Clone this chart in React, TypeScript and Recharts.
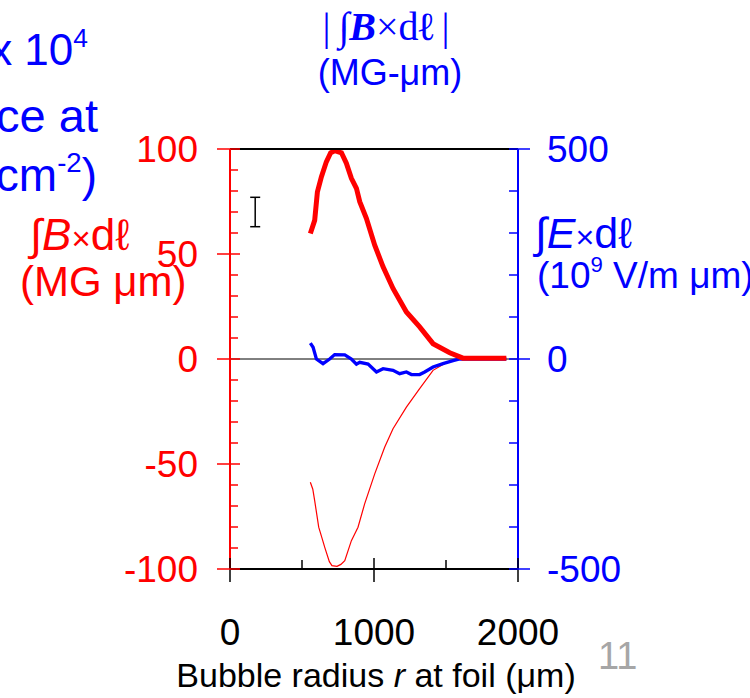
import React from 'react';
import { ComposedChart, Line, Scatter, ErrorBar, XAxis, YAxis, ReferenceLine } from 'recharts';

// radius (um) and integrated B field (MG um), positive branch (thick)
const posRadius = [558, 588, 607, 635, 669, 699, 727, 774, 808, 843, 878, 901, 947, 1005, 1063, 1132, 1225, 1317, 1410, 1526, 1618, 1700, 1800, 1919];
const posField = [59.8, 66, 79.6, 86.8, 93.9, 98.2, 99.2, 98.2, 93.2, 86, 81.3, 74.9, 67, 54.2, 43.9, 33.6, 22.4, 15.3, 7.3, 3, 0.4, 0.3, 0.3, 0.3];

// negative branch (thin)
const negRadius = [558, 575, 588, 616, 640, 658, 690, 708, 743, 770, 797, 843, 889, 935, 1005, 1074, 1132, 1225, 1317, 1410, 1503, 1595, 1700, 1800, 1919];
const negField = [-58.7, -62, -67.4, -80.1, -85.5, -89.7, -96.5, -98.4, -98.7, -97.8, -96, -86.5, -80.1, -69, -54.7, -42, -33.2, -22.9, -14.1, -5.4, -1.7, 0, 0, 0, 0];

// integrated E field (10^9 V/m um)
const eRadius = [558, 577, 600, 646, 692, 727, 797, 843, 878, 901, 959, 1017, 1063, 1132, 1178, 1225, 1260, 1317, 1352, 1410, 1479, 1549, 1595, 1700, 1800, 1919];
const eField = [38, 28, 0, -11, 0, 10.5, 10, 0, -12.5, -8, -12, -31, -23, -27, -35, -31, -37, -37, -31, -19, -11, -4, 0, 0, 0, 0];

// typical error bar
const errRadius = [175];
const errValue = [70];
const errSize = [7];

const xTicks = [0, 500, 1000, 1500, 2000];
const leftTicks = [-100, -90, -80, -70, -60, -50, -40, -30, -20, -10, 0, 10, 20, 30, 40, 50, 60, 70, 80, 90, 100];
const rightTicks = [-500, -400, -300, -200, -100, 0, 100, 200, 300, 400, 500];

const toPoints = (xs: number[], ys: number[]) => xs.map((x, i) => ({ x, y: ys[i] }));
const posData = toPoints(posRadius, posField);
const negData = toPoints(negRadius, negField);
const eData = toPoints(eRadius, eField);
const errData = errRadius.map((x, i) => ({ x, y: errValue[i], err: errSize[i] }));

const RED = '#ff0000';
const BLUE = '#0000ff';
const SANS = '"Liberation Sans", Arial, sans-serif';
const SERIF = '"Liberation Serif", "Times New Roman", serif';
const TICK_FS = 37;

const LeftTick = ({ x, y, payload }: any) => {
  const v = payload.value;
  const major = v % 50 === 0;
  return (
    <g>
      <line x1={major ? x - 13 : x} x2={x + (major ? 10 : 8)} y1={y} y2={y} stroke={RED} strokeWidth={1.5} />
      {major && (
        <text x={x - 32} y={y} dy="0.36em" textAnchor="end" fill={RED} fontSize={TICK_FS} fontFamily={SANS}>
          {v}
        </text>
      )}
    </g>
  );
};

const RightTick = ({ x, y, payload }: any) => {
  const v = payload.value;
  const major = v % 500 === 0;
  return (
    <g>
      <line x1={x - 9} x2={major ? x + 12 : x} y1={y} y2={y} stroke={BLUE} strokeWidth={1.5} />
      {major && (
        <text x={x + 29} y={y} dy="0.36em" textAnchor="start" fill={BLUE} fontSize={TICK_FS} fontFamily={SANS}>
          {v}
        </text>
      )}
    </g>
  );
};

const BottomTick = ({ x, y, payload }: any) => {
  const v = payload.value;
  const major = v % 1000 === 0;
  return (
    <g>
      <line x1={x} x2={x} y1={y - (major ? 11 : 9)} y2={major ? y + 13 : y} stroke="#000" strokeWidth={1.5} />
      {major && (
        <text x={x} y={y + 63} dy="0.36em" textAnchor="middle" fill="#000" fontSize={TICK_FS} fontFamily={SANS}>
          {v}
        </text>
      )}
    </g>
  );
};

const TopTick = ({ x, y, payload }: any) => {
  const major = payload.value % 1000 === 0;
  return <line x1={x} x2={x} y1={major ? y - 8 : y} y2={y + 7} stroke="#000" strokeWidth={1.5} />;
};

const Txt = ({ left, right, center, top, fs, color, family = SANS, children }: any) => {
  const style: React.CSSProperties = {
    position: 'absolute',
    top: top - fs * 0.49,
    fontSize: fs,
    lineHeight: 1,
    color,
    fontFamily: family,
    whiteSpace: 'nowrap',
  };
  if (left !== undefined) style.left = left;
  if (right !== undefined) style.right = 750 - right;
  if (center !== undefined) {
    style.left = center;
    style.transform = 'translateX(-50%)';
  }
  return <div style={style}>{children}</div>;
};

const sup: React.CSSProperties = { fontSize: '0.6em', verticalAlign: '0.7em' };

export default function App() {
  return (
    <div style={{ position: 'absolute', left: 0, top: 0, width: 750, height: 698, overflow: 'hidden', background: '#fff' }}>
      <ComposedChart width={750} height={698} margin={{ top: 0, right: 0, bottom: 0, left: 0 }}>
        <XAxis
          xAxisId="bottom"
          dataKey="x"
          type="number"
          domain={[0, 2000]}
          ticks={xTicks}
          orientation="bottom"
          height={129}
          axisLine={{ stroke: '#000', strokeWidth: 2 }}
          tickLine={false}
          tickSize={0}
          tickMargin={0}
          tick={<BottomTick />}
        />
        <XAxis
          xAxisId="top"
          type="number"
          domain={[0, 2000]}
          ticks={xTicks}
          orientation="top"
          height={149}
          axisLine={{ stroke: '#000', strokeWidth: 2 }}
          tickLine={false}
          tickSize={0}
          tickMargin={0}
          tick={<TopTick />}
        />
        <YAxis
          yAxisId="left"
          type="number"
          domain={[-100, 100]}
          ticks={leftTicks}
          orientation="left"
          width={230}
          axisLine={{ stroke: RED, strokeWidth: 2 }}
          tickLine={false}
          tickSize={0}
          tickMargin={0}
          tick={<LeftTick />}
          interval={0}
        />
        <YAxis
          yAxisId="right"
          type="number"
          domain={[-500, 500]}
          ticks={rightTicks}
          orientation="right"
          width={232}
          axisLine={{ stroke: BLUE, strokeWidth: 2 }}
          tickLine={false}
          tickSize={0}
          tickMargin={0}
          tick={<RightTick />}
          interval={0}
        />
        <ReferenceLine xAxisId="bottom" yAxisId="left" y={0} stroke="#000" strokeWidth={1} />
        <Line
          xAxisId="bottom"
          yAxisId="left"
          data={negData}
          dataKey="y"
          type="linear"
          stroke={RED}
          strokeWidth={1.2}
          dot={false}
          isAnimationActive={false}
        />
        <Line
          xAxisId="bottom"
          yAxisId="right"
          data={eData}
          dataKey="y"
          type="linear"
          stroke={BLUE}
          strokeWidth={3.3}
          dot={false}
          isAnimationActive={false}
        />
        <Line
          xAxisId="bottom"
          yAxisId="left"
          data={posData}
          dataKey="y"
          type="linear"
          stroke={RED}
          strokeWidth={5}
          dot={false}
          isAnimationActive={false}
        />
        <Scatter
          xAxisId="bottom"
          yAxisId="left"
          data={errData}
          dataKey="y"
          shape={() => <g />}
          isAnimationActive={false}
        >
          <ErrorBar dataKey="err" direction="y" width={5} stroke="#000" strokeWidth={1.5} />
        </Scatter>
      </ComposedChart>

      <Txt center={386} top={27} fs={40} color={BLUE} family={SERIF}>
        |&thinsp;∫<b><i>B</i></b>×d<b>ℓ</b>&thinsp;|
      </Txt>
      <Txt center={390} top={73} fs={36} color={BLUE}>(MG-μm)</Txt>

      <Txt right={88} top={47} fs={44} color={BLUE}>
        x 10<span style={sup}>4</span>
      </Txt>
      <Txt right={98} top={115} fs={47} color={BLUE}>ce at</Txt>
      <Txt right={97} top={172} fs={46} color={BLUE}>
        cm<span style={sup}>-2</span>)
      </Txt>

      <Txt left={30} top={235} fs={44} color={RED}>
        ∫<i>B</i>
        <span style={{ fontSize: '0.75em' }}>×</span>dℓ
      </Txt>
      <Txt left={20} top={282} fs={42} color={RED}>(MG μm)</Txt>

      <Txt left={535} top={233} fs={43} color={BLUE}>
        ∫<i>E</i>
        <span style={{ fontSize: '0.75em' }}>×</span>dℓ
      </Txt>
      <Txt left={537} top={272} fs={37} color={BLUE}>
        (10<span style={sup}>9</span> V/m μm)
      </Txt>

      <Txt center={376} top={675} fs={34} color="#000">
        Bubble radius <i>r</i> at foil (μm)
      </Txt>
      <Txt left={598} top={656} fs={38} color="#a6a6a6">11</Txt>
    </div>
  );
}
